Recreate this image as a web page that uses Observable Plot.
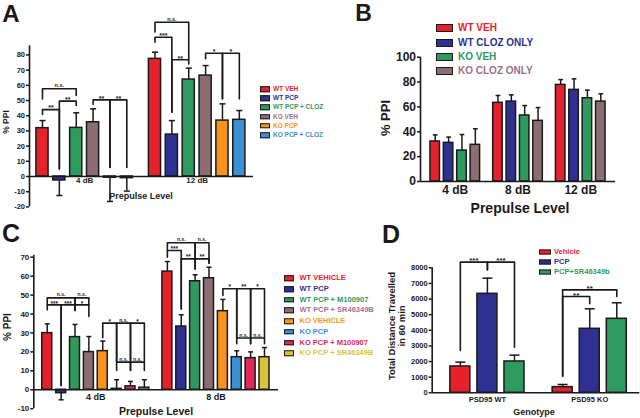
<!DOCTYPE html>
<html><head><meta charset="utf-8">
<script src="https://cdn.jsdelivr.net/npm/d3@7"></script>
<script src="https://cdn.jsdelivr.net/npm/@observablehq/plot@0.6"></script>
<style>
body{margin:0;background:#fff}
#fig{position:relative;width:640px;height:418px;overflow:hidden;background:#fff;font-family:"Liberation Sans",Arial,Helvetica,sans-serif;font-weight:bold;color:#1a1a1a}
#fig svg{position:absolute}
#fig svg [aria-label^="y-axis"]{stroke-width:1.5px}
.t{position:absolute;white-space:nowrap;line-height:1;transform:translate(-50%,-50%);text-align:center}
.lg{position:absolute;white-space:nowrap;line-height:1;transform:translateY(-50%)}
.sw{position:absolute;border:1px solid #1a1a1a;box-sizing:border-box;transform:translateY(-50%)}
</style></head><body><div id="fig"></div>
<script>
// ---------- Panel A ----------
const levelsA = ["4 dB", "12 dB"];
const seriesA = ["WT VEH", "WT PCP", "WT PCP + CLOZ", "KO VEH", "KO PCP", "KO PCP + CLOZ"];
const colorsA = ["#e5212b", "#2e3192", "#2f9a5e", "#8c6d72", "#f7941d", "#3b8fd3"];
const textColorsA = ["#e5212b", "#2e3192", "#2f9a5e", "#9a7088", "#f7941d", "#3b8fd3"];
const meanA = [[31.8, -2.6, 32, 35.7, -0.8, -1.1], [77.4, 27.6, 63.8, 66.4, 36.8, 37.3]];
const semA = [[5, 9.9, 9.9, 8.8, 15.6, 8.5], [4.4, 9.2, 7.5, 6.6, 11, 6.1]];
const ticksA = [-20, -10, 0, 10, 20, 30, 40, 50, 60, 70, 80];
// [level, bar i, bar j, bracket height, drop at i, drop at j, label]
const bracketsA = [
  [0, 0, 1, 44, 40.8, 5, "**"],
  [0, 1, 2, 49.6, 5, 46.7, "**"],
  [0, 0, 2, 57.7, 51, 53.3, "n.s."],
  [0, 3, 4, 50.4, 47.4, 6, "**"],
  [0, 4, 5, 50.4, 6, 6, "**"],
  [1, 0, 2, 101.5, 95, 76.8, "n.s."],
  [1, 0, 1, 91.6, 88.4, 42.3, "***"],
  [1, 1, 2, 76.8, 42.3, 74, "**"],
  [1, 3, 4, 81.1, 77.4, 51.1, "*"],
  [1, 4, 5, 81.1, 51.1, 51.1, "*"]
];

// ---------- Panel B ----------
const levelsB = ["4 dB", "8 dB", "12 dB"];
const seriesB = ["WT VEH", "WT CLOZ ONLY", "KO VEH", "KO CLOZ ONLY"];
const colorsB = ["#e5212b", "#2e3192", "#2f9a5e", "#8c6d72"];
const textColorsB = ["#e5212b", "#2e3192", "#2f9a5e", "#9a7088"];
const meanB = [[32.2, 31.1, 24.9, 29.5], [63.3, 64.3, 53.1, 48.8], [77.7, 73.7, 67, 64.3]];
const semB = [[5.3, 4.6, 12.9, 12.9], [5.9, 5.4, 8, 10.7], [4.3, 8.9, 6.5, 6.2]];
const ticksB = [0, 20, 40, 60, 80, 100];
const bracketsB = [];

// ---------- Panel C ----------
const levelsC = ["4 dB", "8 dB"];
const seriesC = ["WT VEHICLE", "WT PCP", "WT PCP + M100907", "WT PCP + SR46349B", "KO VEHICLE", "KO PCP", "KO PCP + M100907", "KO PCP + SR46349B"];
const colorsC = ["#e5212b", "#2e3192", "#2f9a5e", "#8c6d72", "#f7941d", "#3b8fd3", "#e3285b", "#d9c53a"];
const textColorsC = ["#e5212b", "#2e3192", "#2f9a5e", "#a0709a", "#f7941d", "#3b8fd3", "#e3285b", "#d9c53a"];
const meanC = [[29.9, -1.8, 27.8, 19.9, 20.4, 0.5, 1.8, 1.1], [62.4, 33.4, 57.3, 58.9, 41.5, 17.2, 16.7, 17.2]];
const semC = [[4.9, 3.5, 6.7, 8.2, 5.3, 4.8, 2.6, 4.2], [5.3, 6.2, 3.4, 5.8, 6.2, 3.4, 3.3, 5.1]];
const ticksC = [-10, 0, 10, 20, 30, 40, 50, 60, 70];
const bracketsC = [
  [0, 0, 2, 48.5, 44.8, 44.8, "n.s."],
  [0, 2, 3, 48.5, 44.8, 44.8, "n.s."],
  [0, 0, 1, 44.8, 42.2, 2.3, "***"],
  [0, 1, 2, 44.8, 2.3, 41.9, "***"],
  [0, 2, 3, 44.8, 41.9, 38.7, "*"],
  [0, 4, 5, 35.2, 27.5, 14.6, "*"],
  [0, 5, 6, 35.2, 14.6, 14.6, "n.s."],
  [0, 6, 7, 35.2, 14.6, 14.6, "*"],
  [0, 5, 6, 14.6, 10.2, 10.2, "n.s."],
  [0, 6, 7, 14.6, 10.2, 10.2, "n.s."],
  [1, 0, 2, 77.6, 73.5, 69.1, "n.s."],
  [1, 2, 3, 77.6, 69.1, 66.8, "n.s."],
  [1, 0, 1, 73.5, 70, 42.7, "***"],
  [1, 1, 2, 69.1, 42.7, 63.8, "**"],
  [1, 2, 3, 69.1, 63.8, 66.8, "**"],
  [1, 4, 5, 53.3, 49.8, 27.3, "*"],
  [1, 5, 6, 53.3, 27.3, 27.3, "**"],
  [1, 6, 7, 53.3, 27.3, 27.3, "*"],
  [1, 5, 6, 27.3, 24.3, 24.3, "n.s."],
  [1, 6, 7, 27.3, 24.3, 24.3, "n.s."]
];

// ---------- Panel D ----------
const levelsD = ["PSD95 WT", "PSD95 KO"];
const seriesD = ["Vehicle", "PCP", "PCP+SR46349b"];
const colorsD = ["#e5212b", "#2e3192", "#2f9a5e"];
const textColorsD = ["#e5212b", "#2e3192", "#2f9a5e"];
const meanD = [[1685, 6335, 2005], [363, 4096, 4736]];
const semD = [[277, 1003, 405], [170, 1280, 1024]];
const ticksD = [0, 1000, 2000, 3000, 4000, 5000, 6000, 7000, 8000];
const bracketsD = [
  [0, 0, 1, 8362, 2709, 7870, "***"],
  [0, 1, 2, 8362, 7870, 2922, "***"],
  [1, 0, 1, 6165, 1066, 5695, "**"],
  [1, 0, 2, 6590, 1066, 6165, "**"]
];

const INK = "#1a1a1a";
const FONT = '"Liberation Sans", Arial, Helvetica, sans-serif';
const fig = document.getElementById("fig");

function panel(cfg) {
  const n = cfg.series.length;
  const pos = (g, i) => g * (n + cfg.gap) + i;
  const rows = [];
  cfg.levels.forEach((lv, g) => cfg.series.forEach((s, i) => {
    const v = cfg.mean[g][i], e = cfg.sem[g][i];
    rows.push({level: lv, series: s, pos: pos(g, i), value: v, end: v < 0 ? v - e : v + e});
  }));
  const pts = [], lbl = [];
  cfg.brackets.forEach(([g, i, j, y, yi, yj, label], k) => {
    const xi = pos(g, i), xj = pos(g, j);
    pts.push({k, x: xi, y: yi}, {k, x: xi, y}, {k, x: xj, y}, {k, x: xj, y: yj});
    lbl.push({x: (xi + xj) / 2, y, label});
  });
  const groups = cfg.levels.map((lv, g) => ({level: lv, x: pos(g, (n - 1) / 2)}));
  const hw = cfg.bw / 2, cw = cfg.bw * 0.25;
  const svg = Plot.plot({
    width: cfg.width, height: cfg.height,
    marginLeft: cfg.ml, marginRight: cfg.mr, marginTop: cfg.mt, marginBottom: cfg.mb,
    x: {domain: cfg.xDomain, axis: null},
    y: {domain: cfg.yDomain, ticks: cfg.ticks, tickSize: 3, tickPadding: 1.5, tickFormat: d => String(d), label: null},
    color: {domain: cfg.series, range: cfg.colors},
    style: {background: "transparent", overflow: "visible", fontFamily: FONT, fontSize: cfg.tickFont + "px", fontWeight: "bold", color: INK},
    marks: [
      Plot.rect(rows, {x1: d => d.pos - hw, x2: d => d.pos + hw, y1: 0, y2: "value", fill: "series", stroke: INK, strokeWidth: 1.5}),
      Plot.ruleX(rows, {x: "pos", y1: "value", y2: "end", stroke: INK, strokeWidth: 1.5}),
      Plot.link(rows, {x1: d => d.pos - cw, x2: d => d.pos + cw, y1: "end", y2: "end", stroke: INK, strokeWidth: 1.5}),
      Plot.ruleY([0], {stroke: INK, strokeWidth: 1.6}),
      Plot.ruleX([cfg.xDomain[0]], {y1: cfg.yDomain[0], y2: cfg.yDomain[1], stroke: INK, strokeWidth: 1.6}),
      Plot.line(pts, {x: "x", y: "y", z: "k", stroke: INK, strokeWidth: 1.6}),
      Plot.text(lbl.filter(d => d.label !== "n.s."), {x: "x", y: "y", text: "label", lineAnchor: "middle", dy: -1.5, fontSize: cfg.starFont, fontWeight: "bold", fill: INK}),
      Plot.text(lbl.filter(d => d.label === "n.s."), {x: "x", y: "y", text: "label", lineAnchor: "bottom", dy: -1.5, fontSize: cfg.nsFont, fontWeight: "bold", fill: INK}),
      Plot.text(groups, {x: "x", y: 0, text: "level", lineAnchor: "top", dy: cfg.groupDy, fontSize: cfg.groupFont, fontWeight: "bold", fill: INK})
    ]
  });
  svg.style.left = cfg.left + "px";
  svg.style.top = cfg.top + "px";
  fig.appendChild(svg);
}

panel({levels: levelsA, series: seriesA, colors: colorsA, mean: meanA, sem: semA, brackets: bracketsA, ticks: ticksA,
  left: 0, top: 0, width: 260, height: 210, ml: 29, mr: 7, mt: 45.3, mb: 3.6,
  xDomain: [-0.77, 12.51], yDomain: [-20, 86], gap: 0.67, bw: 0.72,
  tickFont: 7.5, groupFont: 8, groupDy: 1, starFont: 7, nsFont: 5.5});
panel({levels: levelsB, series: seriesB, colors: colorsB, mean: meanB, sem: semB, brackets: bracketsB, ticks: ticksB,
  left: 340, top: 0, width: 300, height: 210, ml: 80, mr: 25, mt: 56.7, mb: 29,
  xDomain: [-1.1, 13.48], yDomain: [0, 100], gap: 0.69, bw: 0.71,
  tickFont: 12, groupFont: 12, groupDy: 3.5, starFont: 7, nsFont: 5.5});
panel({levels: levelsC, series: seriesC, colors: colorsC, mean: meanC, sem: semC, brackets: bracketsC, ticks: ticksC,
  left: 0, top: 210, width: 290, height: 208, ml: 33.3, mr: 12, mt: 44.8, mb: 9.8,
  xDomain: [-0.97, 16.67], yDomain: [-10, 71], gap: 0.66, bw: 0.72,
  tickFont: 8, groupFont: 9, groupDy: 3.5, starFont: 6.5, nsFont: 5});
panel({levels: levelsD, series: seriesD, colors: colorsD, mean: meanD, sem: semD, brackets: bracketsD, ticks: ticksD,
  left: 400, top: 210, width: 240, height: 208, ml: 31.7, mr: 0.7, mt: 57.3, mb: 25.7,
  xDomain: [-1.04, 6.63], yDomain: [0, 8000], gap: 0.78, bw: 0.74,
  tickFont: 7.5, groupFont: 7.5, groupDy: 3.5, starFont: 8, nsFont: 6});

// ---------- text: panel letters and axis titles ----------
const titles = [
  ["A", 11, 13.5, 24, 0],
  ["B", 363.5, 13, 23, 0],
  ["C", 11, 233, 25, 0],
  ["D", 391, 234, 25, 0],
  ["% PPI", 6, 122, 8.5, -90],
  ["Prepulse Level", 141, 195.5, 9, 0],
  ["% PPI", 386, 118, 13, -90],
  ["Prepulse Level", 520, 207.5, 14, 0],
  ["% PPI", 8, 327, 10, -90],
  ["Prepulse Level", 156, 410.5, 10.5, 0],
  ["Total Distance Travelled<br>in 60 min", 397, 326, 9.5, -90],
  ["Genotype", 534, 412, 9, 0]
];
titles.forEach(([txt, x, y, size, rot]) => {
  const d = document.createElement("div");
  d.className = "t";
  d.innerHTML = txt;
  d.style.left = x + "px";
  d.style.top = y + "px";
  d.style.fontSize = size + "px";
  if (rot) { d.style.transform = `translate(-50%,-50%) rotate(${rot}deg)`; d.style.lineHeight = "1.05"; }
  fig.appendChild(d);
});

// ---------- legends ----------
function legend(series, colors, textColors, o) {
  series.forEach((s, k) => {
    const cy = o.y0 + k * o.dy;
    const sw = document.createElement("div");
    sw.className = "sw";
    Object.assign(sw.style, {left: o.x + "px", top: cy + "px", width: o.w + "px", height: o.h + "px", background: colors[k]});
    fig.appendChild(sw);
    const t = document.createElement("div");
    t.className = "lg";
    t.textContent = s;
    Object.assign(t.style, {left: o.tx + "px", top: cy + "px", fontSize: o.font + "px", color: textColors[k]});
    fig.appendChild(t);
  });
}
legend(seriesA, colorsA, textColorsA, {x: 259.5, y0: 89, dy: 9.2, w: 10, h: 5.5, tx: 273, font: 6.5});
legend(seriesB, colorsB, textColorsB, {x: 436, y0: 28.3, dy: 14.2, w: 17, h: 8, tx: 458, font: 10});
legend(seriesC, colorsC, textColorsC, {x: 283.5, y0: 278.3, dy: 10.7, w: 10, h: 5.5, tx: 299.5, font: 7.5});
legend(seriesD, colorsD, textColorsD, {x: 538.5, y0: 251.7, dy: 10.3, w: 12, h: 5, tx: 554, font: 7.5});
</script></body></html>
